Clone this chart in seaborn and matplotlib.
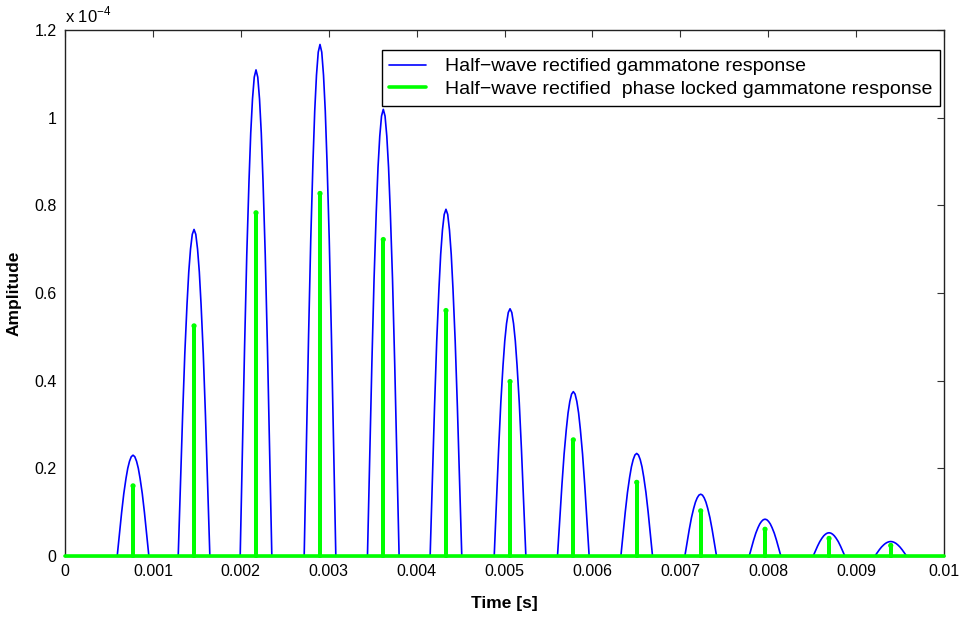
import numpy as np
import pandas as pd
import matplotlib
matplotlib.use("Agg")
import matplotlib.pyplot as plt
import seaborn as sns

# ---- data ----
peak_times = [0.000774, 0.001468, 0.002173, 0.002901, 0.003621, 0.004334, 0.005063,
              0.005783, 0.006504, 0.007232, 0.007964, 0.008692, 0.009394]
peak_amps = [2.30e-5, 7.45e-5, 11.09e-5, 11.67e-5, 10.19e-5, 7.91e-5, 5.64e-5,
             3.75e-5, 2.34e-5, 1.41e-5, 0.84e-5, 0.53e-5, 0.33e-5]
stem_amps = [1.60e-5, 5.25e-5, 7.83e-5, 8.27e-5, 7.22e-5, 5.60e-5, 3.98e-5,
             2.65e-5, 1.68e-5, 1.03e-5, 0.61e-5, 0.40e-5, 0.24e-5]
# shape of one rectified lobe: time offsets from the peak (s) and relative height
lobe_offsets = [-0.00018, -0.000155, -0.00013, -0.000105, -0.00008, -0.00006, -0.00004,
                -0.00002, 0.0, 0.00002, 0.00004, 0.00006, 0.00008, 0.000105, 0.00013,
                0.000155, 0.00018]
lobe_shape = [0.0, 0.22, 0.43, 0.62, 0.77, 0.87, 0.94, 0.985, 1.0, 0.985, 0.94, 0.87,
              0.77, 0.62, 0.43, 0.22, 0.0]
t_start, t_end = 0.0, 0.01
x_ticks = [0, 0.001, 0.002, 0.003, 0.004, 0.005, 0.006, 0.007, 0.008, 0.009, 0.01]
x_tick_labels = ["0", "0.001", "0.002", "0.003", "0.004", "0.005", "0.006",
                 "0.007", "0.008", "0.009", "0.01"]
y_ticks = [0, 0.2e-4, 0.4e-4, 0.6e-4, 0.8e-4, 1.0e-4, 1.2e-4]
y_tick_labels = ["0", "0.2", "0.4", "0.6", "0.8", "1", "1.2"]

# ---- build tables ----
bt, by = [t_start], [0.0]
for pt, pa in zip(peak_times, peak_amps):
    for o, s in zip(lobe_offsets, lobe_shape):
        bt.append(pt + o)
        by.append(pa * s)
bt.append(t_end); by.append(0.0)
blue_df = pd.DataFrame({"t": bt, "a": by})

gt, gy = [t_start], [0.0]
for pt, sa in zip(peak_times, stem_amps):
    gt += [pt, pt, pt]
    gy += [0.0, sa, 0.0]
gt.append(t_end); gy.append(0.0)
green_df = pd.DataFrame({"t": gt, "a": gy})
tops_df = pd.DataFrame({"t": peak_times, "a": stem_amps})

# ---- plot ----
sns.set_theme(style="white")
plt.rcParams["font.family"] = ["Liberation Sans", "DejaVu Sans"]
plt.rcParams["mathtext.fontset"] = "custom"
plt.rcParams["mathtext.rm"] = "Liberation Sans"

fig = plt.figure(figsize=(9.6, 6.25), dpi=100)
ax = fig.add_axes([65 / 960, 1 - 556 / 625, 879 / 960, 526 / 625])

sns.lineplot(data=blue_df, x="t", y="a", ax=ax, color="#0000FF", linewidth=1.2,
             estimator=None, sort=False,
             label="Half\u2212wave rectified gammatone response", zorder=2)
sns.lineplot(data=green_df, x="t", y="a", ax=ax, color="#00FF00", linewidth=2.6,
             estimator=None, sort=False,
             label="Half\u2212wave rectified  phase locked gammatone response", zorder=3)
sns.scatterplot(data=tops_df, x="t", y="a", ax=ax, color="#00FF00", s=14,
                edgecolor="none", zorder=4, legend=False)
for ln in ax.lines:
    if ln.get_color() == "#00FF00":
        ln.set_clip_on(False)

ax.set_xlim(t_start, t_end)
ax.set_ylim(0, 1.2e-4)
ax.set_xticks(x_ticks)
ax.set_xticklabels(x_tick_labels)
ax.set_yticks(y_ticks)
ax.set_yticklabels(y_tick_labels)
ax.tick_params(direction="in", length=5, width=0.8, color="#333333",
               top=True, right=True, labelsize=11.5, labelcolor="black", pad=6)
for sp in ax.spines.values():
    sp.set_color("#222222")
    sp.set_linewidth(1.0)

ax.set_xlabel("Time [s]", fontsize=12.5, fontweight="bold", labelpad=12, color="black")
ax.set_ylabel("Amplitude", fontsize=12.5, fontweight="bold", labelpad=9, color="black")
ax.text(0.0, 1.008, r"x 10$^{-4}$", transform=ax.transAxes, fontsize=12,
        ha="left", va="bottom", color="black")

leg = ax.legend(loc="upper right", bbox_to_anchor=(0.9954, 0.962), borderaxespad=0,
                fontsize=14, frameon=True, fancybox=False, handlelength=1.9,
                handletextpad=0.95, borderpad=0.4, labelspacing=0.25)
for t in leg.get_texts():
    t.set_color("black")
leg.get_frame().set_edgecolor("black")
leg.get_frame().set_linewidth(1.0)
leg.get_frame().set_alpha(1.0)

fig.savefig("out.png", dpi=100)
